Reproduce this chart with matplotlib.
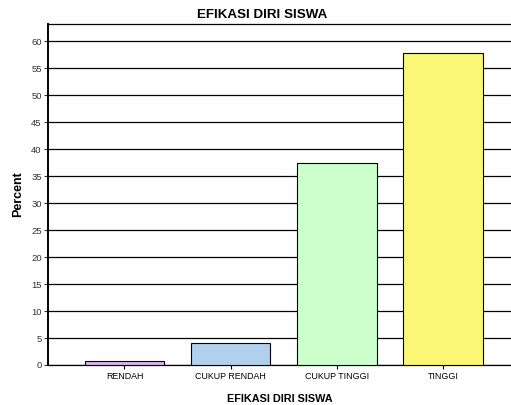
import matplotlib
matplotlib.use("Agg")
import matplotlib.pyplot as plt

categories = ["RENDAH", "CUKUP RENDAH", "CUKUP TINGGI", "TINGGI"]
percent = [0.7, 4.1, 37.4, 57.8]
colors = ["#D9B3EA", "#B0D0EE", "#CCFFCC", "#FAF776"]
yticks = list(range(0, 61, 5))

plt.rcParams["font.family"] = ["Liberation Sans", "DejaVu Sans"]

fig = plt.figure(figsize=(5.11, 4.05), dpi=100)
ax = fig.add_axes([48 / 511, 40 / 405, 463 / 511, 341 / 405])

x = list(range(len(categories)))
ax.bar(x, percent, width=0.75, color=colors, edgecolor="black", linewidth=0.8, zorder=3)

ax.set_xlim(-0.72, 3.64)
ax.set_ylim(0, 63.2)
ax.set_yticks(yticks)
ax.set_xticks(x)
ax.set_xticklabels(categories, fontsize=6.4)
ax.tick_params(axis="y", labelsize=6.8, length=3, width=0.8, pad=1.5, colors="#333333")
ax.tick_params(axis="x", length=3, width=0.8, pad=2)
ax.yaxis.grid(True, color="black", linewidth=0.9, zorder=0)

ax.spines["right"].set_visible(False)
ax.spines["left"].set_linewidth(1.4)
ax.spines["top"].set_linewidth(0.9)
ax.spines["bottom"].set_linewidth(0.9)

ax.set_ylabel("Percent", fontsize=9, fontweight="bold", labelpad=5)
ax.set_xlabel("EFIKASI DIRI SISWA", fontsize=7.8, fontweight="bold", labelpad=9.5)
fig.text(261.7 / 511, 1 - 15 / 405, "EFIKASI DIRI SISWA", fontsize=9.6,
         fontweight="bold", ha="center", va="center")

fig.savefig("out.png", dpi=100)
